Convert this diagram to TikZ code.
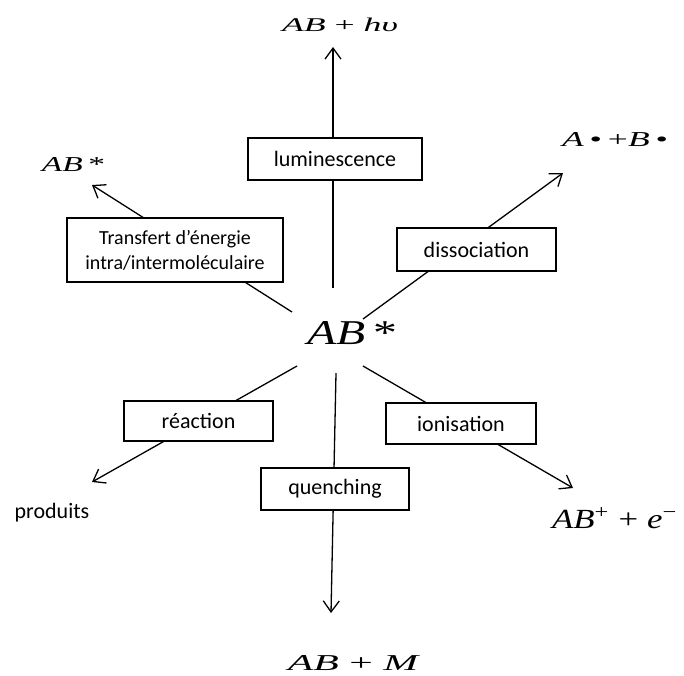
\documentclass[tikz,border=0pt]{standalone}
\usepackage{fontspec}
\usepackage{graphicx}
\setmainfont{Liberation Serif}
\newfontfamily\boxfont{Carlito}
\usetikzlibrary{arrows.meta}
\tikzset{
  conn/.style={line width=1.3pt},
  arr/.style={conn,-{Straight Barb[length=11pt,width=16pt,line width=1.3pt]}},
  procbox/.style={draw,line width=1.2pt,fill=white,inner sep=0pt,font=\boxfont\fontsize{22}{26}\selectfont},
  chem/.style={inner sep=0pt}
}
\begin{document}
\begin{tikzpicture}[x=1pt,y=-1pt]
\useasboundingbox (0,0) rectangle (684,675);
% central species
\node[chem] (c) at (352,333.5) {\resizebox{90pt}{23pt}{\textit{AB}\,*}};
% free ends near the centre
\coordinate (s1) at (333,288);
\coordinate (s2) at (292,312);
\coordinate (s3) at (363,319);
\coordinate (s4) at (297,366);
\coordinate (s5) at (363,366);
\coordinate (s6) at (336,373);
% arrow tips
\coordinate (t1) at (333,47);
\coordinate (t2) at (92,185);
\coordinate (t3) at (563,173);
\coordinate (t4) at (92,482);
\coordinate (t5) at (573,488);
\coordinate (t6) at (331,613);
% connectors
\draw[arr] (s1) -- (t1);
\draw[arr] (s2) -- (t2);
\draw[arr] (s3) -- (t3);
\draw[arr] (s4) -- (t4);
\draw[arr] (s5) -- (t5);
\draw[arr] (s6) -- (t6);
% process boxes
\node[procbox,minimum width=174pt,minimum height=42pt] (lum) at (335,159) {luminescence};
\node[procbox,minimum width=216pt,minimum height=64pt,align=center,font=\boxfont\fontsize{20}{25}\selectfont] (trans) at (175,250) {Transfert d’énergie\\intra/intermoléculaire};
\node[procbox,minimum width=159pt,minimum height=43pt] (diss) at (476.5,249.5) {dissociation};
\node[procbox,minimum width=149pt,minimum height=40pt] (reac) at (198.5,421) {réaction};
\node[procbox,minimum width=150pt,minimum height=41pt] (ion) at (461,423.5) {ionisation};
\node[procbox,minimum width=148pt,minimum height=42pt] (quen) at (335,489) {quenching};
% products
\node[chem] (p1) at (340,25) {\resizebox{116pt}{13.5pt}{\textit{AB} + \textit{hυ}}};
\node[chem] (p2) at (73.5,165) {\resizebox{63pt}{14pt}{\textit{AB}\,*}};
\node[chem] (p3) at (615,140) {\resizebox{106pt}{14pt}{\textit{A}\,•\,+\textit{B}\,•}};
\node[chem,font=\boxfont\fontsize{22}{26}\selectfont] (p4) at (52,513) {produits};
\node[chem] (p5) at (615,518.5) {\resizebox{126pt}{21pt}{\textit{AB}\textsuperscript{+} + \textit{e}\textsuperscript{−}}};
\node[chem] (p6) at (354,663) {\resizebox{132pt}{15pt}{\textit{AB} + \textit{M}}};
\end{tikzpicture}
\end{document}
